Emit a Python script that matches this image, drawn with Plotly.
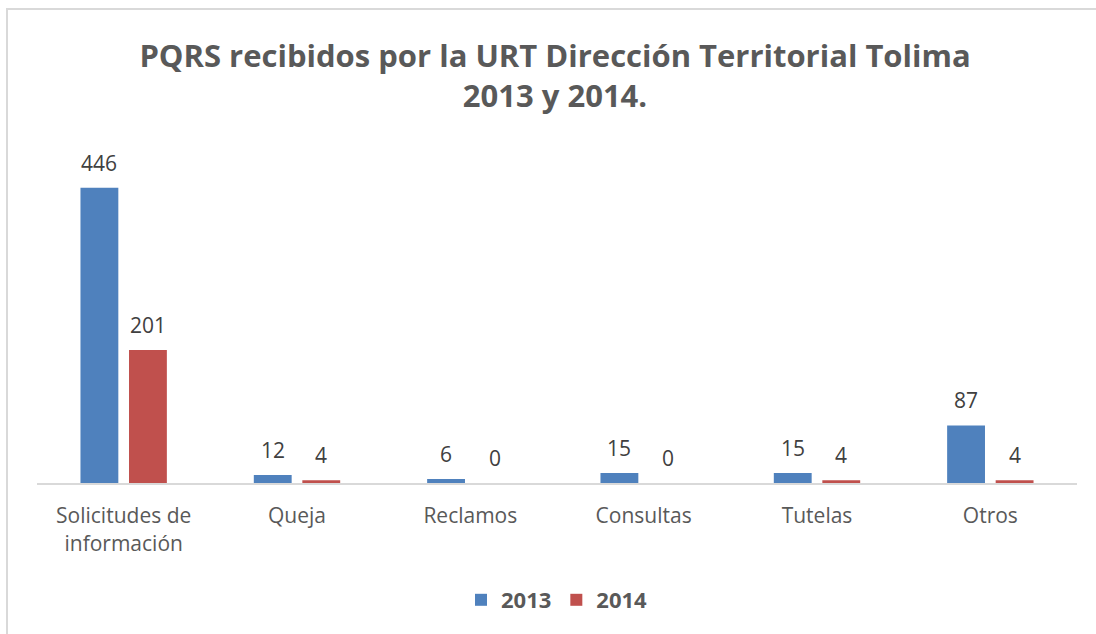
import plotly.graph_objects as go

categories = ["Solicitudes de<br>información", "Queja", "Reclamos", "Consultas", "Tutelas", "Otros"]
series_names = ["2013", "2014"]
values_2013 = [446, 12, 6, 15, 15, 87]
values_2014 = [201, 4, 0, 0, 4, 4]
colors = ["#4F81BD", "#C0504D"]

FONT = "Open Sans"
W, H = 1096, 634
ML, MR, MT, MB = 37, 19, 152, 151
BARGAP = 0.44
PLOT_W = W - ML - MR
PLOT_H = H - MT - MB
slot = (1 - BARGAP) * PLOT_W / len(categories) / 2

fig = go.Figure()
annotations = []
series = [values_2013, values_2014]
for s, (name, vals, col) in enumerate(zip(series_names, series, colors)):
    fig.add_trace(go.Bar(
        name=name, x=categories, y=vals,
        marker=dict(color=col, line=dict(width=0)),
    ))
    for cat, v in zip(categories, vals):
        annotations.append(dict(
            x=cat, y=v, xref="x", yref="y", text=str(v), showarrow=False,
            xshift=(s - 0.5) * slot, yshift=9, yanchor="bottom", xanchor="center",
            font=dict(family=FONT, size=21, color="#404040"),
        ))

fig.update_layout(
    width=W, height=H,
    paper_bgcolor="white", plot_bgcolor="white",
    margin=dict(l=ML, r=MR, t=MT, b=MB, autoexpand=False),
    barmode="group", bargap=BARGAP, bargroupgap=0.22,
    title=dict(
        text="PQRS recibidos por la URT Dirección Territorial Tolima<br>2013 y 2014.",
        x=555 / W, xanchor="center", y=1 - 67 / H, yanchor="middle", yref="container",
        font=dict(family=FONT, size=31, color="#595959", weight="bold"),
    ),
    legend=dict(
        orientation="h", x=0.5, xanchor="center", y=-117 / PLOT_H, yanchor="middle",
        font=dict(family=FONT, size=22, color="#595959", weight="bold"),
        traceorder="normal",
    ),
    xaxis=dict(
        showline=True, linecolor="#D9D9D9", linewidth=2, ticks="",
        tickfont=dict(family=FONT, size=21, color="#595959"),
        ticklabelstandoff=13, showgrid=False, zeroline=False, automargin=False,
    ),
    yaxis=dict(range=[0, 500], visible=False, showgrid=False, zeroline=False, automargin=False),
    annotations=annotations,
    shapes=[dict(type="rect", xref="paper", yref="paper",
                 x0=-30 / PLOT_W, x1=(PLOT_W + 40) / PLOT_W,
                 y0=-200 / PLOT_H, y1=(PLOT_H + 143) / PLOT_H,
                 line=dict(color="#D9D9D9", width=2), fillcolor="rgba(0,0,0,0)", layer="below")],
)

fig.write_html(
    "out.html",
    config={"displayModeBar": False},
    post_script="document.body.style.margin='0';document.body.style.overflow='hidden';",
)
